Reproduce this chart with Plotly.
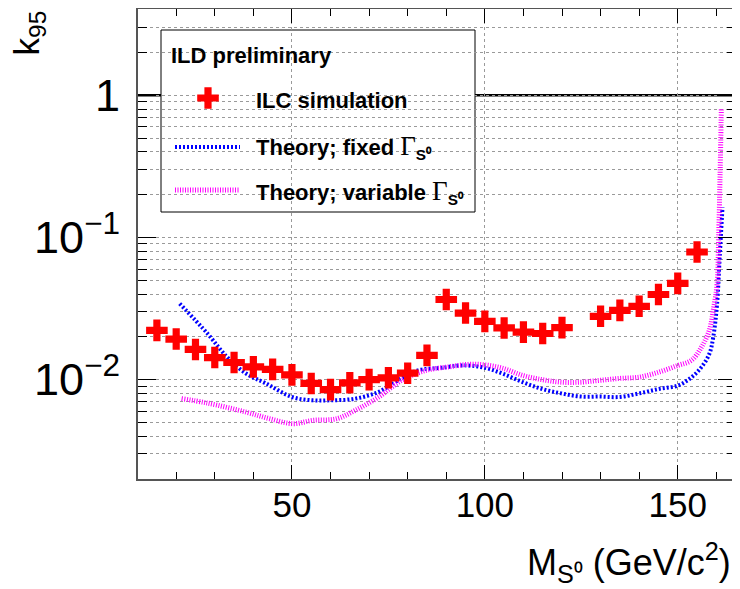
import plotly.graph_objects as go

# ILC simulation points (k95 vs scalar mass)
sim_mass = [15, 20, 25, 30, 35, 40, 45, 50, 55, 60, 65, 70, 75, 80, 85,
            90, 95, 100, 105, 110, 115, 120, 130, 135, 140, 145, 150, 155]
sim_k95 = [0.0222, 0.0193, 0.0163, 0.0143, 0.0132, 0.0123, 0.0118, 0.0108,
           0.0094, 0.0085, 0.0095, 0.0100, 0.0103, 0.0111, 0.0148,
           0.0366, 0.0294, 0.0257, 0.0231, 0.0216, 0.0211, 0.0232,
           0.0279, 0.0307, 0.0328, 0.0397, 0.0475, 0.079]

# theory, fixed width
fixed_mass = [20.9, 28.1, 33.2, 38.2, 43.3, 50, 55.4, 59.9, 66.4, 72.5, 77.5,
              82.6, 88.6, 94.7, 100, 104.7, 109.8, 114.8, 119.8, 124.9, 129.9,
              135, 140, 145.1, 150.1, 153.6, 156.2, 158.2, 159.2, 160.2, 160.9, 161.6]
fixed_k95 = [0.0343, 0.0211, 0.0144, 0.0110, 0.0094, 0.00755, 0.00715, 0.00715,
             0.00735, 0.0082, 0.0099, 0.0116, 0.0121, 0.0126, 0.0121, 0.0110,
             0.0096, 0.0086, 0.0080, 0.0076, 0.0076, 0.00755, 0.0080, 0.0086,
             0.0091, 0.0104, 0.0123, 0.0152, 0.0199, 0.0343, 0.075, 0.163]

# theory, variable width
var_mass = [21.4, 28.1, 38.2, 44.3, 50.3, 55.4, 61.5, 66.4, 72.5, 78.5, 84.7,
            90.7, 95.7, 100, 104.7, 109.8, 114.8, 119.8, 124.9, 129.9, 135,
            140, 145.1, 150.1, 153.6, 156.2, 158.2, 159.2, 160.2, 160.6, 161.0, 161.3]
var_k95 = [0.00735, 0.00684, 0.0059, 0.0053, 0.0049, 0.00517, 0.0053, 0.00608,
           0.00755, 0.0099, 0.0116, 0.0123, 0.0128, 0.0127, 0.0120, 0.0107,
           0.0100, 0.0096, 0.0096, 0.0099, 0.0102, 0.0104, 0.0113, 0.0126,
           0.0137, 0.0170, 0.0223, 0.0307, 0.0474, 0.10, 0.30, 0.81]

FONT = "Liberation Sans"
W, H = 740, 589
OFF = 8  # page body margin shifts the figure in the screenshot
# frame edges as seen in the screenshot: left 138, right 736, top 9, bottom 479
L, R, T, B = 138 - OFF, W - (736 - OFF), 9 - OFF, H - (479 - OFF)


# screenshot pixel -> paper helpers for the hand drawn legend box
def px_x(px):
    return (px - OFF - L) / (W - L - R)


def px_y(py):
    return (H - B - (py - OFF)) / (H - T - B)


fig = go.Figure()

fig.add_trace(go.Scatter(x=fixed_mass, y=fixed_k95, mode="lines",
                         line=dict(color="#0000ff", width=4, dash="2px,2px", shape="spline"),
                         showlegend=False))
fig.add_trace(go.Scatter(x=var_mass, y=var_k95, mode="lines",
                         line=dict(color="#ff00ff", width=5, dash="1px,1.5px", shape="spline"),
                         showlegend=False))
fig.add_trace(go.Scatter(x=sim_mass, y=sim_k95, mode="markers",
                         marker=dict(symbol="cross", size=18, color="#ff0000", line=dict(width=0)),
                         showlegend=False))

grid = dict(showgrid=True, gridcolor="#9a9a9a", griddash="dot", gridwidth=1)

fig.update_xaxes(range=[10.1, 165.1], dtick=50, tick0=0, ticks="inside", ticklen=14,
                 tickcolor="black", tickwidth=1, showline=True, linecolor="#555",
                 linewidth=1.5, mirror="ticks", zeroline=False, automargin=False,
                 tickfont=dict(family=FONT, size=35, color="black"),
                 ticklabelstandoff=-6,
                 minor=dict(dtick=10, ticks="inside", ticklen=7, tickcolor="black", showgrid=False),
                 **grid)
fig.update_yaxes(type="log", range=[-2.699, 0.607], dtick=1, exponentformat="power",
                 ticks="inside", ticklen=18, tickcolor="black", tickwidth=1,
                 showline=True, linecolor="#555", linewidth=1.5, mirror="ticks",
                 zeroline=False, automargin=False,
                 tickfont=dict(family=FONT, size=36, color="black"),
                 ticklabelstandoff=9,
                 minor=dict(dtick="D1", ticks="inside", ticklen=9, tickcolor="black",
                            showgrid=True, gridcolor="#9a9a9a", griddash="dot"),
                 **grid)

# legend marker sample on a hidden overlay axis
fig.add_trace(go.Scatter(x=[px_x(208)], y=[px_y(98)], xaxis="x2", yaxis="y2", mode="markers",
                         marker=dict(symbol="cross", size=18, color="#ff0000", line=dict(width=0)),
                         showlegend=False, hoverinfo="skip", cliponaxis=False))

shapes = [
    dict(type="line", xref="paper", yref="y", x0=0, x1=1, y0=1, y1=1,
         line=dict(color="black", width=2.5), layer="between"),
    dict(type="rect", xref="paper", yref="paper", x0=px_x(161), x1=px_x(475),
         y0=px_y(212), y1=px_y(30), fillcolor="white",
         line=dict(color="black", width=1), layer="between"),
    dict(type="line", xref="paper", yref="paper", x0=px_x(175), x1=px_x(240),
         y0=px_y(147), y1=px_y(147), line=dict(color="#0000ff", width=4, dash="2px,2px"),
         layer="above"),
    dict(type="line", xref="paper", yref="paper", x0=px_x(175), x1=px_x(240),
         y0=px_y(190), y1=px_y(190), line=dict(color="#ff00ff", width=5, dash="1px,1.5px"),
         layer="above"),
]

gamma = "<span style='font-family:Liberation Serif;font-size:27px'>Γ</span>"
annotations = [
    dict(text="<b>ILD preliminary</b>", x=px_x(169), y=px_y(55)),
    dict(text="<b>ILC simulation</b>", x=px_x(254), y=px_y(100)),
    dict(text="<b>Theory; fixed </b>" + gamma + "<sub><b>S⁰</b></sub>", x=px_x(254), y=px_y(147)),
    dict(text="<b>Theory; variable </b>" + gamma + "<sub><b>S⁰</b></sub>", x=px_x(254), y=px_y(192)),
]
for a in annotations:
    a.update(xref="paper", yref="paper", xanchor="left", yanchor="middle", showarrow=False,
             font=dict(family=FONT, size=22, color="black"))

# axis titles
annotations.append(dict(text="M<sub>S⁰</sub> (GeV/c<sup>2</sup>)", xref="paper", yref="paper",
                        x=px_x(733), y=px_y(562), xanchor="right", yanchor="middle",
                        showarrow=False, font=dict(family=FONT, size=36, color="black")))
annotations.append(dict(text="k<sub>95</sub>", xref="paper", yref="paper",
                        x=px_x(28), y=px_y(9), xanchor="center", yanchor="top",
                        textangle=-90, showarrow=False,
                        font=dict(family=FONT, size=35, color="black")))

fig.update_layout(
    width=W, height=H,
    margin=dict(l=L, r=R, t=T, b=B),
    paper_bgcolor="white", plot_bgcolor="white",
    showlegend=False,
    shapes=shapes,
    annotations=annotations,
    xaxis2=dict(range=[0, 1], overlaying="x", anchor="y2", visible=False),
    yaxis2=dict(range=[0, 1], overlaying="y", anchor="x2", visible=False),
)

fig.write_html("out.html")
